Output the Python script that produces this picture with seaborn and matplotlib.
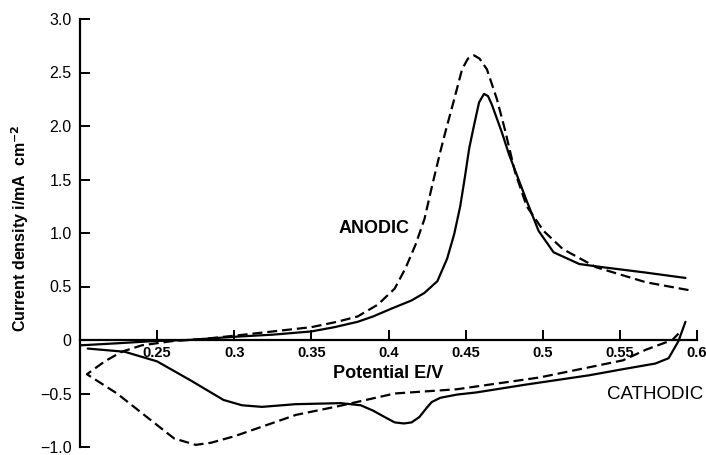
import matplotlib
matplotlib.use("Agg")
import matplotlib.pyplot as plt
import seaborn as sns

# solid curve, forward (anodic) scan
solid_anodic_E = [0.200, 0.225, 0.248, 0.270, 0.300, 0.325, 0.350, 0.365, 0.380, 0.390,
                  0.4014, 0.415, 0.4233, 0.4317, 0.438, 0.4426, 0.4465, 0.4495, 0.4523, 0.4555,
                  0.4587, 0.4619, 0.4645, 0.467, 0.4735, 0.478, 0.4896, 0.4973, 0.507, 0.5237,
                  0.539, 0.5668, 0.5925]
solid_anodic_i = [-0.05, -0.03, -0.01, 0.0, 0.03, 0.05, 0.08, 0.12, 0.17, 0.22,
                  0.29, 0.37, 0.44, 0.55, 0.76, 0.99, 1.25, 1.52, 1.79, 2.01,
                  2.22, 2.30, 2.28, 2.20, 1.94, 1.74, 1.30, 1.02, 0.82, 0.71,
                  0.68, 0.63, 0.58]

# solid curve, reverse (cathodic) scan
solid_cathodic_E = [0.5925, 0.588, 0.5816, 0.573, 0.553, 0.530, 0.4876, 0.457, 0.4445, 0.4336,
                    0.428, 0.425, 0.420, 0.415, 0.410, 0.404, 0.3975, 0.390, 0.382, 0.369,
                    0.3396, 0.318, 0.305, 0.293, 0.272, 0.250, 0.229, 0.205]
solid_cathodic_i = [0.17, -0.01, -0.17, -0.22, -0.27, -0.33, -0.42, -0.49, -0.51, -0.54,
                    -0.58, -0.63, -0.72, -0.77, -0.78, -0.77, -0.72, -0.66, -0.61, -0.59,
                    -0.60, -0.625, -0.61, -0.56, -0.38, -0.20, -0.11, -0.08]

# dashed curve, reverse (cathodic) scan
dashed_cathodic_E = [0.588, 0.584, 0.567, 0.552, 0.525, 0.498, 0.4445, 0.404, 0.367, 0.340,
                     0.318, 0.300, 0.285, 0.275, 0.261, 0.246, 0.224, 0.2045]
dashed_cathodic_i = [0.06, 0.0, -0.09, -0.19, -0.27, -0.35, -0.46, -0.50, -0.62, -0.70,
                     -0.81, -0.90, -0.96, -0.98, -0.92, -0.75, -0.50, -0.32]

# dashed curve, forward (anodic) scan
dashed_anodic_E = [0.2045, 0.216, 0.227, 0.240, 0.260, 0.280, 0.300, 0.325, 0.350, 0.3666,
                   0.380, 0.393, 0.404, 0.411, 0.4175, 0.4233, 0.4284, 0.4336, 0.4368, 0.4426,
                   0.4477, 0.4515, 0.4555, 0.459, 0.4638, 0.4703, 0.4754, 0.482, 0.4896, 0.5005,
                   0.513, 0.5346, 0.5668, 0.597]
dashed_anodic_i = [-0.32, -0.20, -0.11, -0.05, -0.01, 0.01, 0.04, 0.08, 0.12, 0.17,
                   0.22, 0.33, 0.48, 0.67, 0.89, 1.13, 1.45, 1.76, 1.94, 2.25,
                   2.53, 2.63, 2.66, 2.63, 2.53, 2.25, 1.97, 1.57, 1.25, 1.02,
                   0.85, 0.68, 0.54, 0.46]

x_ticks = [0.25, 0.3, 0.35, 0.4, 0.45, 0.5, 0.55, 0.6]
x_labels = ['0.25', '0.3', '0.35', '0.4', '0.45', '0.5', '0.55', '0.6']
y_ticks = [-1.0, -0.5, 0, 0.5, 1.0, 1.5, 2.0, 2.5, 3.0]
y_labels = ['\u22121.0', '\u22120.5', '0', '0.5', '1.0', '1.5', '2.0', '2.5', '3.0']

sns.set_style("ticks")
plt.rcParams['font.family'] = ['Liberation Sans', 'DejaVu Sans']
plt.rcParams['text.color'] = 'black'
plt.rcParams['xtick.color'] = 'black'
plt.rcParams['ytick.color'] = 'black'
plt.rcParams['axes.edgecolor'] = 'black'

fig = plt.figure(figsize=(7.06, 4.55), dpi=100)
ax = fig.add_axes([80 / 706, 1 - 447 / 455, (697 - 80) / 706, (447 - 19) / 455])

lw = 1.6
dash = (0, (4.5, 2.2))
sns.lineplot(x=solid_anodic_E, y=solid_anodic_i, sort=False, estimator=None,
             color='black', lw=lw, ax=ax)
sns.lineplot(x=solid_cathodic_E, y=solid_cathodic_i, sort=False, estimator=None,
             color='black', lw=lw, ax=ax)
sns.lineplot(x=dashed_cathodic_E + dashed_anodic_E[1:], y=dashed_cathodic_i + dashed_anodic_i[1:],
             sort=False, estimator=None, color='black', lw=lw, linestyle=dash, ax=ax)

ax.set_xlim(0.2, 0.6)
ax.set_ylim(-1.0, 3.0)
ax.spines['bottom'].set_position(('data', 0))
ax.spines['top'].set_visible(False)
ax.spines['right'].set_visible(False)
for s in ['left', 'bottom']:
    ax.spines[s].set_linewidth(1.6)

ax.set_xticks(x_ticks)
ax.set_xticklabels(x_labels, fontsize=10.5, fontweight='bold')
ax.set_yticks(y_ticks)
ax.set_yticklabels(y_labels, fontsize=11.5)
ax.tick_params(axis='x', direction='in', length=7, width=1.4, pad=4)
ax.tick_params(axis='y', direction='in', length=7, width=1.4, pad=6)
ax.set_xlabel('')
ax.set_ylabel('')

ax.text(0.4, -0.31, 'Potential E/V', fontsize=13, fontweight='bold', ha='center', va='center')
ax.text(0.3905, 1.04, 'ANODIC', fontsize=13, fontweight='bold', ha='center', va='center')
ax.text(0.573, -0.51, 'CATHODIC', fontsize=13.5, ha='center', va='center')
fig.text(20 / 706, 1 - 228 / 455, r'Current density i/mA  cm$^{\mathbf{-2}}$',
         fontsize=11.5, fontweight='bold', rotation=90, ha='center', va='center')

fig.savefig('out.png', dpi=100)
